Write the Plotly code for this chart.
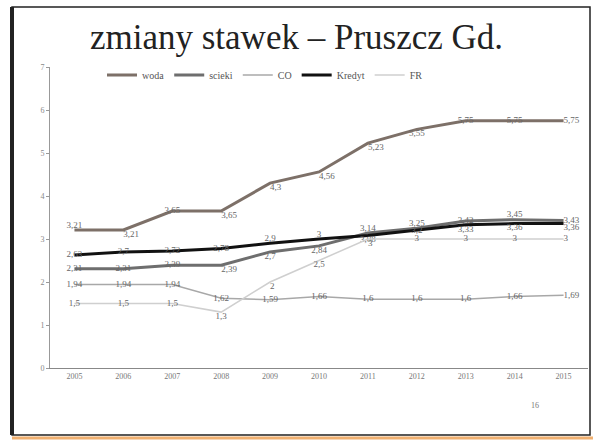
"""
Zmiany stawek - Pruszcz Gd. (odtworzenie slajdu)
"""
import plotly.graph_objects as go

# dane
lata = ['2005', '2006', '2007', '2008', '2009', '2010',
        '2011', '2012', '2013', '2014', '2015']
woda = [3.21, 3.21, 3.65, 3.65, 4.3, 4.56, 5.23, 5.55, 5.75, 5.75, 5.75]
scieki = [2.31, 2.31, 2.39, 2.39, 2.7, 2.84, 3.14, 3.25, 3.42, 3.45, 3.43]
co = [1.94, 1.94, 1.94, 1.62, 1.59, 1.66, 1.6, 1.6, 1.6, 1.66, 1.69]
kredyt = [2.63, 2.7, 2.72, 2.78, 2.9, 3.0, 3.08, 3.2, 3.33, 3.36, 3.36]
fr = [1.5, 1.5, 1.5, 1.3, 2, 2.5, 3, 3, 3, 3, 3]

FONT = 'Liberation Serif'
W, H = 593, 441
L, R, T, B = 50, 5, 67, 73  # marginesy obszaru wykresu

MC, MR, TC, BC, BR = 'middle center', 'middle right', 'top center', 'bottom center', 'bottom right'


def px_x(px):
    # piksel -> współrzędne paper (x)
    return (px - L) / (W - L - R)


def px_y(py):
    # piksel -> współrzędne paper (y)
    return (H - B - py) / (H - T - B)


def etykiety(vals):
    return [f"{v:g}".replace('.', ',') for v in vals]


serie = [
    ('woda', woda, '#7d7068', 3,
     [TC, BR, MC, BR, BR, BR, BR, BC, MC, MC, MR]),
    ('scieki', scieki, '#6e6e6e', 3,
     [MC, MC, MC, BR, BC, BC, TC, TC, MC, TC, MR]),
    ('CO', co, '#a8a8a8', 1.5,
     [MC, MC, MC, MC, MC, MC, MC, MC, MC, MC, MR]),
    ('Kredyt', kredyt, '#111111', 3,
     [MC, MC, MC, MC, TC, TC, BC, MC, BC, BC, BR]),
    ('FR', fr, '#cfcfcf', 1.5,
     [MC, MC, MC, BC, BR, BC, BR, MC, MC, MC, MR]),
]

fig = go.Figure()
for name, vals, color, width, pos in serie:
    fig.add_trace(go.Scatter(
        x=lata, y=vals, name=name,
        mode='lines+text',
        text=etykiety(vals),
        textposition=pos,
        textfont=dict(family=FONT, size=9, color='#666666'),
        line=dict(color=color, width=width),
    ))

fig.update_layout(
    width=W, height=H,
    margin=dict(l=L, r=R, t=T, b=B),
    paper_bgcolor='white',
    plot_bgcolor='white',
    font=dict(family=FONT, color='#555555'),
    title=dict(
        text='zmiany stawek – Pruszcz Gd.',
        font=dict(family=FONT, size=35, color='#222222'),
        x=0.5, xanchor='center',
        y=1 - 37 / H, yanchor='middle'
    ),
    xaxis=dict(
        type='category',
        showgrid=False,
        showline=True, linecolor='#888888', linewidth=1,
        ticks='', tickfont=dict(family=FONT, size=8, color='#777777'),
        range=[-0.5, 10.5],
    ),
    yaxis=dict(
        range=[0, 7], dtick=1,
        showgrid=False, zeroline=False,
        showline=True, linecolor='#999999', linewidth=1,
        ticks='outside', ticklen=3, tickcolor='#999999',
        tickfont=dict(family=FONT, size=8, color='#888888'),
    ),
    legend=dict(
        orientation='h',
        x=px_x(265), xanchor='center',
        y=px_y(75), yanchor='middle',
        font=dict(family=FONT, size=10, color='#555555'),
        itemwidth=30,
        bgcolor='rgba(0,0,0,0)',
    ),
    showlegend=True,
)

# ramka slajdu
fig.add_shape(type='rect', xref='paper', yref='paper',
              x0=px_x(12), x1=px_x(590), y0=px_y(435), y1=px_y(7),
              line=dict(color='#222222', width=1.5))
fig.add_shape(type='line', xref='paper', yref='paper',
              x0=px_x(12), x1=px_x(12), y0=px_y(435), y1=px_y(7),
              line=dict(color='#222222', width=4))
fig.add_shape(type='line', xref='paper', yref='paper',
              x0=px_x(12), x1=px_x(593), y0=px_y(438), y1=px_y(438),
              line=dict(color='#f0b070', width=3))

fig.add_annotation(text='16', xref='paper', yref='paper',
                   x=px_x(541), y=px_y(412), showarrow=False,
                   font=dict(family=FONT, size=8, color='#777777'))

# bez marginesu strony, żeby wykres zaczynał się w rogu okna
fig.write_html("out.html", config={'displayModeBar': False},
               post_script="document.body.style.margin='0';")
